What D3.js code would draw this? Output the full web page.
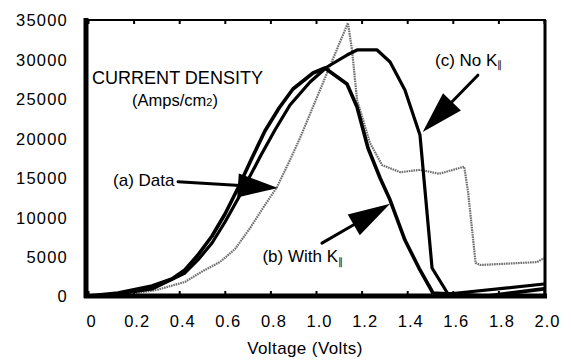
<!DOCTYPE html>
<html>
<head>
<meta charset="utf-8">
<script src="https://cdn.jsdelivr.net/npm/d3@7"></script>
<style>
  html, body { margin: 0; padding: 0; background: #fff; }
  svg { display: block; }
  text { font-family: "Liberation Sans", Arial, Helvetica, sans-serif; fill: #000; }
</style>
</head>
<body>
<svg id="chart" width="571" height="360"></svg>
<script>
// ---- data ----
const xTicks = [0, 0.2, 0.4, 0.6, 0.8, 1.0, 1.2, 1.4, 1.6, 1.8, 2.0];
const xTickLabels = ["0", "0.2", "0.4", "0.6", "0.8", "1.0", "1.2", "1.4", "1.6", "1.8", "2.0"];
const yTicks = [0, 5000, 10000, 15000, 20000, 25000, 30000, 35000];
const yTickLabels = ["0", "5000", "10000", "15000", "20000", "25000", "30000", "35000"];

// (a) Data (gray dotted)
const voltageA = [0, 0.1, 0.18, 0.30, 0.425, 0.504, 0.579, 0.645, 0.711, 0.776, 0.829, 0.886, 0.93, 1.14, 1.158, 1.18, 1.237, 1.29, 1.37, 1.456, 1.54, 1.65, 1.667, 1.70, 1.72, 1.97, 2.0];
const currentA = [0, 0, 250, 760, 1780, 3170, 4310, 5960, 8620, 11540, 13820, 17250, 20040, 34620, 31200, 24850, 19400, 16600, 15700, 16000, 15500, 16400, 13200, 4200, 3930, 4300, 4800];

// (b) With K|| (thick)
const voltageB = [0, 0.132, 0.281, 0.368, 0.425, 0.482, 0.544, 0.601, 0.658, 0.715, 0.776, 0.838, 0.899, 0.987, 1.039, 1.136, 1.18, 1.228, 1.281, 1.325, 1.39, 1.456, 1.513, 1.75, 2.0];
const currentB = [0, 380, 1270, 2160, 3300, 5200, 7610, 10400, 13700, 17250, 20920, 23840, 26250, 28280, 28910, 26880, 23970, 18770, 14960, 12170, 7100, 3300, 380, 0, 900];

// (c) No K|| (thick)
const voltageC = [0, 0.132, 0.281, 0.425, 0.482, 0.544, 0.601, 0.667, 0.759, 0.82, 0.886, 0.974, 1.048, 1.136, 1.18, 1.268, 1.325, 1.39, 1.456, 1.509, 1.579, 2.0];
const currentC = [0, 250, 890, 2920, 4570, 6720, 9380, 12810, 17880, 21050, 24220, 27140, 29040, 30560, 31200, 31200, 29670, 26120, 20420, 3550, 250, 1520];

// annotation anchors in data units: [textV, textI, arrowStartV, arrowStartI, arrowTipV, arrowTipI]
const annotA = [0.11, 13900, 0.395, 14500, 0.833, 13700];
const annotB = [0.765, 4300, 1.026, 6700, 1.325, 11700];
const annotC = [1.522, 29200, 1.71, 28000, 1.468, 20800];

// ---- drawing ----
const svg = d3.select("#chart");
const x = d3.scaleLinear().domain([0, 2]).range([88, 544]);
const y = d3.scaleLinear().domain([0, 35000]).range([296, 20]);

const line = d3.line().x(d => x(d[0])).y(d => y(d[1]));
const zipS = (a, b) => a.map((v, i) => [v, b[i]]);

svg.append("rect").attr("width", 571).attr("height", 360).attr("fill", "#fff");

// curves
svg.append("path").datum(zipS(voltageA, currentA)).attr("d", line)
  .attr("fill", "none").attr("stroke", "#6e6e6e").attr("stroke-width", 2.2)
  .attr("stroke-dasharray", "1.6 0.8").attr("stroke-linejoin", "round");
svg.append("path").datum(zipS(voltageB, currentB)).attr("d", line)
  .attr("fill", "none").attr("stroke", "#000").attr("stroke-width", 3.6)
  .attr("stroke-linejoin", "round").attr("stroke-linecap", "round");
svg.append("path").datum(zipS(voltageC, currentC)).attr("d", line)
  .attr("fill", "none").attr("stroke", "#000").attr("stroke-width", 3.2)
  .attr("stroke-linejoin", "round").attr("stroke-linecap", "round");

// frame
svg.append("line").attr("x1", 85).attr("x2", 546).attr("y1", y(35000)).attr("y2", y(35000))
  .attr("stroke", "#000").attr("stroke-width", 2);
svg.append("line").attr("x1", 545).attr("x2", 545).attr("y1", y(35000)).attr("y2", y(0))
  .attr("stroke", "#000").attr("stroke-width", 3);
svg.append("line").attr("x1", 86).attr("x2", 86).attr("y1", 18).attr("y2", 298)
  .attr("stroke", "#000").attr("stroke-width", 5);
svg.append("line").attr("x1", 84).attr("x2", 547).attr("y1", y(0)).attr("y2", y(0))
  .attr("stroke", "#000").attr("stroke-width", 5);

// top inward ticks
const topAxis = svg.append("g").attr("transform", `translate(0,${y(35000)})`)
  .call(d3.axisTop(x).tickValues(xTicks).tickSizeInner(-4).tickSizeOuter(0).tickFormat(""));
topAxis.select(".domain").remove();
topAxis.selectAll("line").attr("stroke", "#000").attr("stroke-width", 2);

// bottom axis
const botAxis = svg.append("g").attr("transform", `translate(0,${y(0)})`)
  .call(d3.axisBottom(x).tickValues(xTicks).tickSizeInner(-5).tickSizeOuter(0)
    .tickFormat((d, i) => xTickLabels[i]));
botAxis.select(".domain").remove();
botAxis.selectAll("line").attr("stroke", "#000").attr("stroke-width", 2);
botAxis.selectAll("text").attr("y", 31).attr("dy", 0).attr("dx", 3)
  .style("font-size", "16.5px").style("letter-spacing", "1px").style("font-family", "'Liberation Sans', Arial, sans-serif")
  .attr("fill", "#000");

// left axis
const leftAxis = svg.append("g").attr("transform", `translate(86,0)`)
  .call(d3.axisLeft(y).tickValues(yTicks).tickSize(0).tickPadding(0)
    .tickFormat((d, i) => yTickLabels[i]));
leftAxis.select(".domain").remove();
leftAxis.selectAll("text").attr("x", -18).attr("dy", "0.36em")
  .style("font-size", "16.5px").style("letter-spacing", "1.2px").style("font-family", "'Liberation Sans', Arial, sans-serif")
  .attr("fill", "#000");

// axis title
svg.append("text").attr("x", 305).attr("y", 354).attr("text-anchor", "middle")
  .style("font-size", "17px").style("letter-spacing", "0.4px").text("Voltage (Volts)");

// chart title inside
svg.append("text").attr("x", 92).attr("y", 84).style("font-size", "17.5px")
  .attr("textLength", 171).attr("lengthAdjust", "spacingAndGlyphs").text("CURRENT DENSITY");
const unit = svg.append("text").attr("x", 132).attr("y", 106).style("font-size", "16.5px");
unit.append("tspan").text("(Amps/cm");
unit.append("tspan").style("font-size", "11px").text("2");
unit.append("tspan").text(")");

// arrows
function arrow(a, headLen, halfW) {
  const sx = x(a[2]), sy = y(a[3]), tx = x(a[4]), ty = y(a[5]);
  const dx = tx - sx, dy = ty - sy, L = Math.hypot(dx, dy);
  const ux = dx / L, uy = dy / L, px = -uy, py = ux;
  const bx = tx - ux * headLen, by = ty - uy * headLen;
  svg.append("line").attr("x1", sx).attr("y1", sy).attr("x2", bx + ux * 2).attr("y2", by + uy * 2)
    .attr("stroke", "#000").attr("stroke-width", 3).attr("stroke-linecap", "round");
  svg.append("path")
    .attr("d", `M${tx},${ty}L${bx + px * halfW},${by + py * halfW}L${bx - px * halfW},${by - py * halfW}Z`)
    .attr("fill", "#000");
}
arrow(annotA, 40, 12);
arrow(annotB, 42, 12);
arrow(annotC, 42, 12.5);

// annotation labels
svg.append("text").attr("x", x(annotA[0])).attr("y", y(annotA[1])).style("font-size", "17px").text("(a) Data");
const tb = svg.append("text").attr("x", x(annotB[0])).attr("y", y(annotB[1])).style("font-size", "17px");
tb.append("tspan").text("(b) With K");
tb.append("tspan").attr("dy", 3).style("font-size", "10px").text("∥");
const tc = svg.append("text").attr("x", x(annotC[0])).attr("y", y(annotC[1])).style("font-size", "17px");
tc.append("tspan").text("(c) No K");
tc.append("tspan").attr("dy", 2).style("font-size", "10px").text("∥");
</script>
</body>
</html>
